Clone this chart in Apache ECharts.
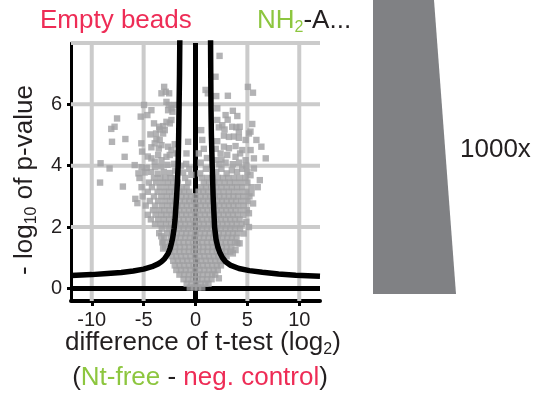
<!DOCTYPE html>
<html><head><meta charset="utf-8">
<script src="https://cdn.jsdelivr.net/npm/echarts@6/dist/echarts.min.js"></script>
<style>html,body{margin:0;padding:0;background:#fff}#c{width:548px;height:394px}</style>
</head><body><div id="c"></div>
<script>
// ---- axis definitions ----
const xRange = [-12, 12];
const yRange = [-0.41, 8];
const xTickValues = [-10, -5, 0, 5, 10];
const yTickValues = [0, 2, 4, 6];
const xGridValues = [-10, -5, 5, 10];
const yGridValues = [2, 4, 6, 8];

// ---- significance threshold curves ----
const leftThreshold = [[-12,0.42],[-10,0.45],[-8.5,0.49],[-7.15,0.52],[-6,0.57],[-5,0.63],[-4.2,0.71],[-3.6,0.8],[-3.29,0.87],[-3.0,0.96],[-2.64,1.14],[-2.45,1.3],[-2.32,1.47],[-2.2,1.65],[-2.06,1.96],[-1.97,2.25],[-1.9,2.6],[-1.82,3.0],[-1.74,3.48],[-1.67,4.02],[-1.62,5.0],[-1.58,6.0],[-1.54,7.0],[-1.51,8.2]];
const rightThreshold = [[1.45,8.2],[1.47,7.0],[1.49,6.0],[1.53,5.0],[1.61,4.0],[1.7,3.0],[1.84,2.0],[1.98,1.6],[2.15,1.35],[2.32,1.19],[2.6,1.0],[2.9,0.87],[3.4,0.75],[4.19,0.65],[5.2,0.58],[6.44,0.53],[8,0.47],[9.66,0.43],[12,0.4]];

// ---- proteins (difference, -log10 p) ----
const upperLeftProteins = [[-3.02,6.57],[-3.28,6.36],[-2.87,6.41],[-2.54,6.36],[-2.8,6.08],[-2.58,5.98],[-2.32,5.87],[-2.64,5.81],[-2.22,5.76],[-2.0,5.98],
[-4.96,5.98],[-4.25,5.81],[-4.64,5.65],[-5.28,5.6],[-7.56,5.54],[-7.8,5.27],[-8.12,5.2],
[-2.32,5.49],[-2.48,5.38],[-2.8,5.43],[-3.12,5.29],[-3.45,5.18],[-2.96,5.16],[-3.12,5.05],[-4.35,5.02],[-4.0,5.38],[-3.5,5.27],[-3.8,5.05],
[-3.77,4.87],[-3.45,4.84],[-3.93,4.73],[-3.28,4.67],[-3.54,4.56],[-4.25,4.6],[-5.22,4.73],[-5.15,4.46],[-6.76,4.87],[-8.05,4.78],
[-2.64,4.62],[-2.32,4.51],[-2.48,4.35],[-2.8,4.29],[-2.0,4.7],[-1.85,4.4],[-0.71,4.78],[-0.87,4.4],[-6.83,4.29],
[-4.25,4.24],[-3.93,4.13],[-3.28,4.18],[-3.6,4.35],[-4.6,4.3],
[-9.15,4.08],[-8.28,3.91],[-5.86,4.02],[-5.2,3.95],[-4.7,3.93],[-3.9,3.96],[-3.3,3.98],[-2.7,4.03],[-2.05,4.06],[-1.4,4.0],[-0.9,4.06],
[-5.5,3.75],[-4.9,3.78],[-4.3,3.8],[-3.65,3.74],[-3.05,3.8],[-2.45,3.76],[-1.95,3.84],[-1.2,3.78],[-0.6,3.9],
[-9.2,3.45],[-7.0,3.32],[-5.8,2.92],[-5.6,2.78],[-3.3,1.7],[-3.1,1.5],[-3.12,1.3]];

const upperRightProteins = [[2.32,7.58],[1.93,6.9],[0.97,6.47],[1.19,6.36],[2.0,6.27],[3.12,6.28],[5.05,6.57],[5.54,6.38],
[2.1,5.87],[2.9,5.65],[3.6,5.79],[4.03,5.62],[3.1,5.5],[2.1,5.49],[2.58,5.32],[2.25,5.25],[2.8,5.18],[0.55,5.16],
[3.54,5.27],[3.93,5.25],[4.26,5.27],[4.18,5.1],[5.47,5.36],[5.3,5.11],
[2.74,4.98],[3.22,4.94],[3.7,4.95],[4.18,4.91],[4.83,4.84],[5.87,4.84],[5.15,5.05],[6.35,4.62],
[2.74,4.62],[3.22,4.57],[3.86,4.64],[4.51,4.51],[5.31,4.51],[2.42,4.4],[1.95,4.55],[2.1,4.8],
[6.77,4.24],[5.63,4.24],[4.83,4.18],[3.86,4.29],[3.06,4.35],[4.3,4.4],[2.5,4.2],[1.93,4.18],[0.65,4.84],[0.32,4.4],[1.1,4.25],[0.5,4.1],[0.8,4.55],
[5.63,3.91],[6.2,3.53],[6.0,3.3],[5.4,3.1],[5.3,3.69],[5.55,2.77],[5.15,2.45],[4.9,2.17],[5.15,2.0],[4.64,1.79],[4.25,1.47],[4.03,1.47],[3.86,1.25],[3.6,1.14],[2.25,0.33],
[2.0,3.8],[2.5,3.9],[3.0,3.75],[3.5,3.85],[4.0,3.8],[4.5,3.9],[5.0,3.8],[2.3,4.05],[2.9,4.1],[3.6,4.05],[4.2,4.1],[4.9,4.0],[1.0,3.9],[0.45,3.75],[-0.4,3.7]];

// dense core, one row per -log10 p level: [y, [x values]]
const coreRows = [
[0.03,[-0.55,-0.15,0.25,0.65]],
[0.15,[-0.85,-0.4,0.05,0.5,0.95,1.25]],
[0.3,[-1.15,-0.7,-0.25,0.2,0.65,1.1,1.55]],
[0.45,[-1.55,-1.1,-0.65,-0.2,0.25,0.7,1.15,1.6,1.9]],
[0.6,[-1.85,-1.4,-0.95,-0.5,-0.05,0.4,0.85,1.3,1.75,2.15]],
[0.75,[-2.0,-1.55,-1.1,-0.65,-0.2,0.25,0.7,1.15,1.6,2.05,2.45]],
[0.9,[-2.15,-1.7,-1.25,-0.8,-0.35,0.1,0.55,1.0,1.45,1.9,2.35,2.7]],
[1.05,[-2.3,-1.85,-1.4,-0.95,-0.5,-0.05,0.4,0.85,1.3,1.75,2.2,2.65,3.0]],
[1.2,[-2.45,-2.0,-1.55,-1.1,-0.65,-0.2,0.25,0.7,1.15,1.6,2.05,2.5,2.95,3.35]],
[1.35,[-2.95,-2.4,-1.95,-1.5,-1.05,-0.6,-0.15,0.3,0.75,1.2,1.65,2.1,2.55,3.0,3.45]],
[1.5,[-3.2,-2.5,-2.05,-1.6,-1.15,-0.7,-0.25,0.2,0.65,1.1,1.55,2.0,2.45,2.9,3.35,3.8]],
[1.65,[-3.0,-2.35,-1.9,-1.45,-1.0,-0.55,-0.1,0.35,0.8,1.25,1.7,2.15,2.6,3.05,3.5,3.95]],
[1.8,[-3.5,-2.75,-2.25,-1.8,-1.35,-0.9,-0.45,0,0.45,0.9,1.35,1.8,2.25,2.7,3.15,3.6,4.05]],
[1.95,[-3.25,-2.6,-2.1,-1.6,-1.15,-0.7,-0.25,0.2,0.65,1.1,1.55,2.0,2.45,2.9,3.35,3.8,4.3]],
[2.1,[-3.9,-3.35,-2.85,-2.35,-1.9,-1.45,-1.0,-0.55,-0.1,0.35,0.8,1.25,1.7,2.15,2.6,3.05,3.5,3.95,4.45]],
[2.25,[-4.3,-3.6,-3.05,-2.55,-2.05,-1.6,-1.15,-0.7,-0.25,0.2,0.65,1.1,1.55,2.0,2.45,2.9,3.35,3.8,4.25]],
[2.4,[-4.6,-3.85,-3.3,-2.8,-2.3,-1.8,-1.35,-0.9,-0.45,0,0.45,0.9,1.35,1.8,2.25,2.7,3.15,3.6,4.05,4.6]],
[2.55,[-4.1,-3.5,-3.0,-2.5,-2.0,-1.55,-1.1,-0.65,-0.2,0.25,0.7,1.15,1.6,2.05,2.5,2.95,3.4,3.85,4.35,4.95]],
[2.7,[-4.8,-3.9,-3.25,-2.7,-2.2,-1.75,-1.3,-0.85,-0.4,0.05,0.5,0.95,1.4,1.85,2.3,2.75,3.2,3.65,4.1,4.65]],
[2.85,[-4.4,-3.6,-3.0,-2.45,-1.95,-1.5,-1.05,-0.6,-0.15,0.3,0.75,1.2,1.65,2.1,2.55,3.0,3.45,3.9,4.4,5.0]],
[3.0,[-5.1,-4.0,-3.3,-2.75,-2.25,-1.8,-1.35,-0.9,-0.45,0.0,0.5,0.95,1.4,1.85,2.3,2.75,3.2,3.65,4.1,4.6,5.2]],
[3.15,[-4.6,-3.65,-3.05,-2.5,-2.0,-1.55,-1.1,-0.6,0.3,0.75,1.2,1.7,2.2,2.7,3.2,3.7,4.3,4.9]],
[3.3,[-5.2,-4.2,-3.45,-2.85,-2.3,-1.8,-1.35,-0.85,0.55,1.0,1.5,2.0,2.5,3.0,3.5,4.0,4.5,5.4]],
[3.45,[-4.5,-3.8,-3.2,-2.65,-2.15,-1.7,-0.7,0.8,1.3,1.8,2.3,2.8,3.3,3.8,4.4,5.0]],
[3.6,[-5.4,-4.0,-3.4,-2.9,-2.4,-1.9,-1.0,0.6,1.15,1.65,2.15,2.65,3.15,3.7,4.25,4.8]]
];

// ---- labels ----
const topLeftLabel = 'Empty beads';
const topRightLabel = ['NH', '2', '-A...'];
const xTitle = ['difference of t-test (log', '2', ')'];
const xSubtitle = ['(', 'Nt-free', ' - ', 'neg. control', ')'];
const yTitle = ['- log', '10', ' of p-value'];
const doseLabel = '1000x';

const RED = '#ee2c56', GREEN = '#8dc63f', INK = '#231f20';
const FONT = '"Liberation Sans", Arial, sans-serif';

const corePoints = [];
coreRows.forEach(([y, xs]) => xs.forEach(x => corePoints.push([x, y])));
const proteins = upperLeftProteins.concat(upperRightProteins, corePoints);

const gridSeries = [];
xGridValues.forEach(v => gridSeries.push({type:'line', data:[[v, yRange[0]],[v, yRange[1]]], symbol:'none', silent:true, clip:false, z:1, animation:false,
  lineStyle:{color:'#cbcbcb', width:4}}));
yGridValues.forEach(v => gridSeries.push({type:'line', data:[[xRange[0], v],[xRange[1], v]], symbol:'none', silent:true, clip:false, z:1, animation:false,
  lineStyle:{color:'#cbcbcb', width:4}}));

const chart = echarts.init(document.getElementById('c'), null, {renderer:'canvas'});
chart.setOption({
  animation:false,
  textStyle:{fontFamily:FONT},
  grid:{left:71, right:228, top:43, bottom:93, containLabel:false},
  xAxis:{type:'value', min:xRange[0], max:xRange[1],
    axisLine:{show:true, onZero:false, lineStyle:{color:'#000', width:4}},
    axisTick:{show:true, customValues:xTickValues, length:5, lineStyle:{color:'#000', width:3}},
    axisLabel:{customValues:xTickValues, fontSize:20, color:INK, margin:9, fontFamily:FONT},
    splitLine:{show:false}},
  yAxis:{type:'value', min:yRange[0], max:yRange[1],
    axisLine:{show:true, onZero:false, lineStyle:{color:'#000', width:3}},
    axisTick:{show:true, customValues:yTickValues, length:4, lineStyle:{color:'#000', width:3}},
    axisLabel:{customValues:yTickValues, fontSize:20, color:INK, margin:9, fontFamily:FONT},
    splitLine:{show:false}},
  series: gridSeries.concat([
    {type:'line', data:[[xRange[0],0],[xRange[1],0]], symbol:'none', silent:true, z:2, lineStyle:{color:'#000', width:5}},
    {type:'line', data:[[0,yRange[0]],[0,yRange[1]]], symbol:'none', silent:true, clip:false, z:2, lineStyle:{color:'#000', width:5}},
    {type:'scatter', data:proteins, symbol:'rect', symbolSize:6.4, z:3, itemStyle:{color:'#a0a0a2'}},
    {type:'line', data:leftThreshold, symbol:'none', z:4, lineStyle:{color:'#000', width:5.5}},
    {type:'line', data:rightThreshold, symbol:'none', z:4, lineStyle:{color:'#000', width:5.5}}
  ]),
  graphic:[
    {type:'polygon', shape:{points:[[373,0],[434,0],[456,294],[373,294]]}, style:{fill:'#808184'}, silent:true},
    {type:'text', x:460, y:150, style:{text:doseLabel, font:'26px '+FONT, fill:INK, align:'left', verticalAlign:'middle'}},
    {type:'text', x:40, y:21, style:{text:topLeftLabel, font:'26px '+FONT, fill:RED, align:'left', verticalAlign:'middle'}},
    {type:'text', x:257, y:21, style:{text:'{g|'+topRightLabel[0]+'}{gs|'+topRightLabel[1]+'}{k|'+topRightLabel[2]+'}',
      align:'left', verticalAlign:'middle',
      rich:{g:{fontSize:26, fontFamily:FONT, fill:GREEN}, gs:{fontSize:16, fontFamily:FONT, fill:GREEN, padding:[14,0,0,0]}, k:{fontSize:26, fontFamily:FONT, fill:INK}}}},
    {type:'text', x:203, y:343, style:{text:'{a|'+xTitle[0]+'}{s|'+xTitle[1]+'}{a|'+xTitle[2]+'}',
      align:'center', verticalAlign:'middle',
      rich:{a:{fontSize:26, fontFamily:FONT, fill:INK}, s:{fontSize:16, fontFamily:FONT, fill:INK, padding:[14,0,0,0]}}}},
    {type:'text', x:200, y:378, style:{text:'{k|'+xSubtitle[0]+'}{g|'+xSubtitle[1]+'}{k|'+xSubtitle[2]+'}{r|'+xSubtitle[3]+'}{k|'+xSubtitle[4]+'}',
      align:'center', verticalAlign:'middle',
      rich:{k:{fontSize:26, fontFamily:FONT, fill:INK}, g:{fontSize:26, fontFamily:FONT, fill:GREEN}, r:{fontSize:26, fontFamily:FONT, fill:RED}}}},
    {type:'text', x:25, y:180, rotation:Math.PI/2, style:{text:'{a|'+yTitle[0]+'}{s|'+yTitle[1]+'}{a|'+yTitle[2]+'}',
      align:'center', verticalAlign:'middle',
      rich:{a:{fontSize:26, fontFamily:FONT, fill:INK}, s:{fontSize:16, fontFamily:FONT, fill:INK, padding:[14,0,0,0]}}}}
  ]
});
</script></body></html>
